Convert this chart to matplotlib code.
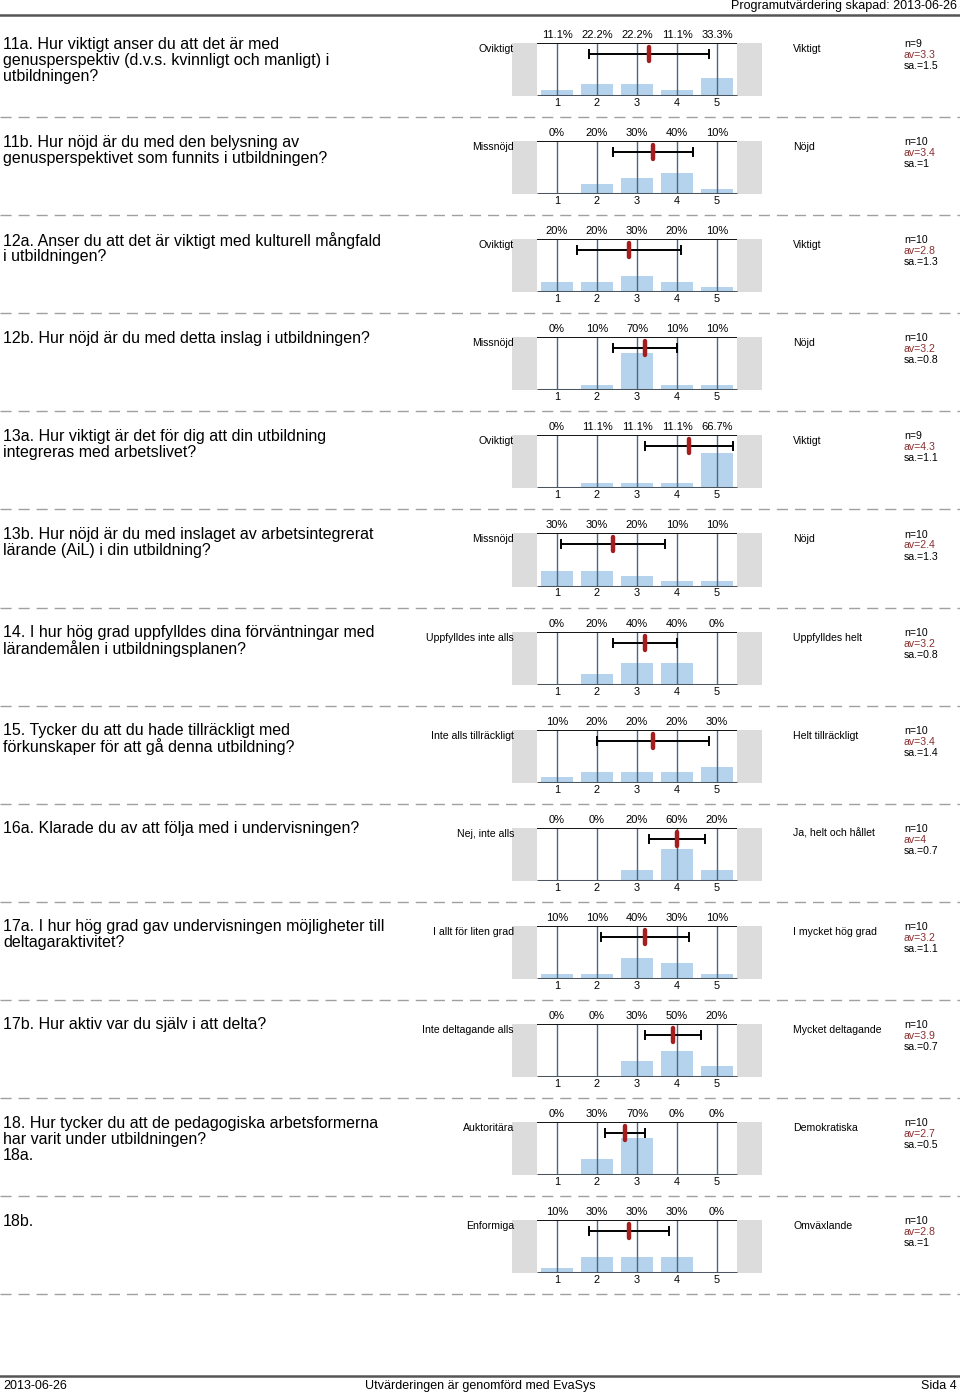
import matplotlib
matplotlib.use("Agg")
import matplotlib.pyplot as plt
from matplotlib.lines import Line2D

plt.rcParams['font.family'] = ['Liberation Sans', 'DejaVu Sans']

# ---------------- data ----------------
questions = [
    ["11a. Hur viktigt anser du att det är med", "genusperspektiv (d.v.s. kvinnligt och manligt) i", "utbildningen?"],
    ["11b. Hur nöjd är du med den belysning av", "genusperspektivet som funnits i utbildningen?"],
    ["12a. Anser du att det är viktigt med kulturell mångfald", "i utbildningen?"],
    ["12b. Hur nöjd är du med detta inslag i utbildningen?"],
    ["13a. Hur viktigt är det för dig att din utbildning", "integreras med arbetslivet?"],
    ["13b. Hur nöjd är du med inslaget av arbetsintegrerat", "lärande (AiL) i din utbildning?"],
    ["14. I hur hög grad uppfylldes dina förväntningar med", "lärandemålen i utbildningsplanen?"],
    ["15. Tycker du att du hade tillräckligt med", "förkunskaper för att gå denna utbildning?"],
    ["16a. Klarade du av att följa med i undervisningen?"],
    ["17a. I hur hög grad gav undervisningen möjligheter till", "deltagaraktivitet?"],
    ["17b. Hur aktiv var du själv i att delta?"],
    ["18. Hur tycker du att de pedagogiska arbetsformerna", "har varit under utbildningen?", "18a."],
    ["18b."],
]
left_labels = ["Oviktigt", "Missnöjd", "Oviktigt", "Missnöjd", "Oviktigt", "Missnöjd",
               "Uppfylldes inte alls", "Inte alls tillräckligt", "Nej, inte alls",
               "I allt för liten grad", "Inte deltagande alls", "Auktoritära", "Enformiga"]
right_labels = ["Viktigt", "Nöjd", "Viktigt", "Nöjd", "Viktigt", "Nöjd",
                "Uppfylldes helt", "Helt tillräckligt", "Ja, helt och hållet",
                "I mycket hög grad", "Mycket deltagande", "Demokratiska", "Omväxlande"]
percentages = [
    [11.1, 22.2, 22.2, 11.1, 33.3],
    [0, 20, 30, 40, 10],
    [20, 20, 30, 20, 10],
    [0, 10, 70, 10, 10],
    [0, 11.1, 11.1, 11.1, 66.7],
    [30, 30, 20, 10, 10],
    [0, 20, 40, 40, 0],
    [10, 20, 20, 20, 30],
    [0, 0, 20, 60, 20],
    [10, 10, 40, 30, 10],
    [0, 0, 30, 50, 20],
    [0, 30, 70, 0, 0],
    [10, 30, 30, 30, 0],
]
n_values = [9, 10, 10, 10, 9, 10, 10, 10, 10, 10, 10, 10, 10]
means = [3.3, 3.4, 2.8, 3.2, 4.3, 2.4, 3.2, 3.4, 4, 3.2, 3.9, 2.7, 2.8]
std_devs = [1.5, 1, 1.3, 0.8, 1.1, 1.3, 0.8, 1.4, 0.7, 1.1, 0.7, 0.5, 1]
categories = [1, 2, 3, 4, 5]

header_text = "Programutvärdering skapad: 2013-06-26"
footer_left = "2013-06-26"
footer_center = "Utvärderingen är genomförd med EvaSys"
footer_right = "Sida 4"

# ---------------- style ----------------
W, H = 960, 1395
GRAY_BOX = "#dcdcdc"
BAR = "#b5d3ec"
GRID = "#4a6784"
RED = "#a51d1d"
AV_COLOR = "#8b2e2e"
narrow = ['Liberation Sans Narrow', 'Liberation Sans', 'DejaVu Sans']

fig = plt.figure(figsize=(W / 100, H / 100), dpi=100)


def fx(x):
    return x / W


def fy(y):
    return 1 - y / H


# header
fig.text(fx(957), fy(6), header_text, ha="right", va="center", fontsize=9.0, family=narrow)
fig.add_artist(Line2D([0, 1], [fy(15), fy(15)], color="#555555", lw=1.8))

STEP = 98.1
for i in range(len(questions)):
    base = 35 + STEP * i
    top = base + 8
    bottom = base + 61
    hpx = bottom - top

    # question text
    for j, line in enumerate(questions[i]):
        fig.text(fx(3), fy(base + 9 + 16 * j), line, ha="left", va="center", fontsize=11.5)

    fig.text(fx(514), fy(base + 14), left_labels[i], ha="right", va="center", fontsize=7.6)
    fig.text(fx(793), fy(base + 14), right_labels[i], ha="left", va="center", fontsize=7.6)

    fig.text(fx(904), fy(base + 9), f"n={n_values[i]}", ha="left", va="center", fontsize=7.6)
    fig.text(fx(904), fy(base + 20), f"av={means[i]:g}", ha="left", va="center", fontsize=7.6, color=AV_COLOR)
    fig.text(fx(904), fy(base + 31), f"sa.={std_devs[i]:g}", ha="left", va="center", fontsize=7.6)

    ax = fig.add_axes([fx(512), fy(bottom), 250 / W, hpx / H])
    ax.set_xlim(-0.125, 6.125)
    ax.set_ylim(0, 100)
    ax.axis("off")
    ax.axvspan(-0.125, 0.5, color=GRAY_BOX, lw=0)
    ax.axvspan(5.5, 6.125, color=GRAY_BOX, lw=0)
    ax.bar(categories, percentages[i], width=0.78, color=BAR, lw=0, zorder=2)
    ax.vlines(categories, 0, 100, color=GRID, lw=1.0, zorder=3)
    ax.plot([0.5, 5.5], [100, 100], color="black", lw=1.3, zorder=4, solid_capstyle="butt")
    ax.plot([0.5, 5.5], [0, 0], color="#4b555f", lw=2.2, zorder=4, solid_capstyle="butt")

    # error bar (mean +/- sd, clipped to scale)
    lo = max(means[i] - std_devs[i], 0.5)
    hi = min(means[i] + std_devs[i], 5.5)
    ey = 100 - 11 / hpx * 100
    cap = 4 / hpx * 100
    ax.plot([lo, hi], [ey, ey], color="black", lw=1.4, zorder=5)
    ax.plot([lo, lo], [ey - cap, ey + cap], color="black", lw=1.4, zorder=5)
    ax.plot([hi, hi], [ey - cap, ey + cap], color="black", lw=1.4, zorder=5)
    mk = 7 / hpx * 100
    ax.plot([means[i], means[i]], [ey - mk, ey + mk], color=RED, lw=3.2,
            solid_capstyle="round", zorder=6)

    for c, p in zip(categories, percentages[i]):
        ax.text(c, 100 + 8 / hpx * 100, f"{p:g}%", ha="center", va="center",
                fontsize=8.0, clip_on=False)
        ax.text(c, -7 / hpx * 100, str(c), ha="center", va="center",
                fontsize=7.8, clip_on=False)

    # dashed separator
    sy = fy(base + 82)
    fig.add_artist(Line2D([0, 1], [sy, sy], color="#a0a0a0", lw=1.0,
                          linestyle=(0, (8, 5))))

# footer
fig.add_artist(Line2D([0, 1], [fy(1376), fy(1376)], color="#555555", lw=1.8))
fig.text(fx(3), fy(1386), footer_left, ha="left", va="center", fontsize=9.0, family=narrow)
fig.text(fx(480), fy(1386), footer_center, ha="center", va="center", fontsize=9.0, family=narrow)
fig.text(fx(957), fy(1386), footer_right, ha="right", va="center", fontsize=9.0, family=narrow)

fig.savefig("out.png", dpi=100)
